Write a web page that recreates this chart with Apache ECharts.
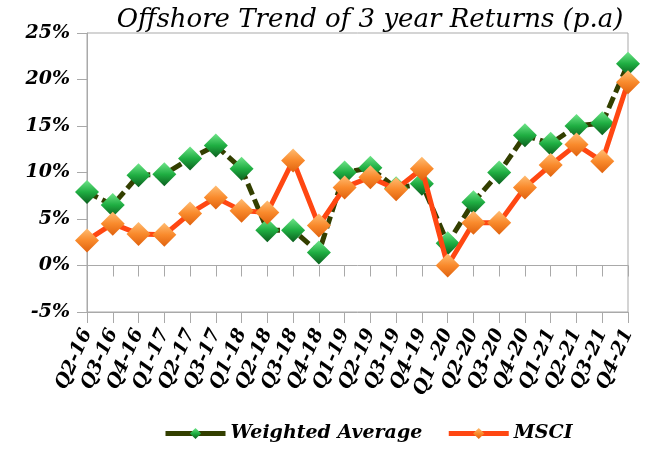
<!DOCTYPE html>
<html>
<head>
<meta charset="utf-8">
<script src="https://cdn.jsdelivr.net/npm/echarts@6/dist/echarts.min.js"></script>
<style>
    html, body { margin: 0; padding: 0; background: #fff; }
    #chart { width: 650px; height: 458px; }
</style>
</head>
<body>
<div id="chart"></div>
<script>
const quarters = [
    "Q2-16", "Q3-16", "Q4-16", "Q1-17", "Q2-17", "Q3-17", "Q1-18", "Q2-18",
    "Q3-18", "Q4-18", "Q1-19", "Q2-19", "Q3-19", "Q4-19", "Q1 -20", "Q2-20",
    "Q3-20", "Q4-20", "Q1-21", "Q2-21", "Q3-21", "Q4-21",
]
const weightedAverage = [
    7.9, 6.5, 9.7, 9.8, 11.5, 12.9, 10.4, 3.8, 3.8, 1.4, 10.0,
    10.5, 8.3, 8.8, 2.4, 6.8, 10.0, 14.0, 13.1, 15.0, 15.3, 21.7,
]
const msci = [
    2.7, 4.5, 3.4, 3.3, 5.6, 7.3, 5.9, 5.7, 11.3, 4.3, 8.4,
    9.5, 8.2, 10.4, 0.0, 4.6, 4.6, 8.4, 10.8, 13.0, 11.2, 19.7,
]

const serif = "DejaVu Serif"
const greenLine = "#333f00"
const orangeLine = "#ff4712"
const frame = "#a9a9a9"

const gem = (top, mid, bottom) =>
    new echarts.graphic.LinearGradient(0, 0, 0, 1, [
        { offset: 0, color: top },
        { offset: 0.5, color: mid },
        { offset: 1, color: bottom },
    ])

const greenGem = gem("#6fe589", "#1fae42", "#0b5e1e")
const orangeGem = gem("#ffbd73", "#f98a2c", "#e0620e")

const chart = echarts.init(document.getElementById("chart"))

const axisText = {
    fontFamily: serif,
    fontStyle: "italic",
    fontWeight: "bold",
    color: "#000",
}

const config = {
    animation: false,
    textStyle: { fontFamily: serif },
    title: {
        text: "Offshore Trend of 3 year Returns (p.a)",
        left: 365,
        top: 2,
        textAlign: "center",
        textStyle: {
            fontFamily: serif,
            fontStyle: "italic",
            fontWeight: "normal",
            fontSize: 26,
            color: "#000",
        },
    },
    legend: {
        bottom: 10,
        left: 158,
        itemWidth: 60,
        itemHeight: 14,
        itemGap: 24,
        textStyle: { ...axisText, fontSize: 19 },
        data: [
            {
                name: "Weighted Average",
                lineStyle: { type: "solid", color: greenLine, width: 5 },
                itemStyle: { color: greenGem },
            },
            {
                name: "MSCI",
                lineStyle: { type: "solid", color: orangeLine, width: 5 },
                itemStyle: { color: orangeGem },
            },
        ],
    },
    grid: {
        left: 87,
        right: 22,
        top: 33,
        bottom: 146,
        show: true,
        borderColor: frame,
        borderWidth: 1,
        containLabel: false,
    },
    xAxis: [
        {
            type: "category",
            data: quarters,
            boundaryGap: false,
            position: "bottom",
            axisLine: { show: true, onZero: false, lineStyle: { color: frame } },
            axisTick: { show: true, interval: 0, length: 11, lineStyle: { color: frame } },
            axisLabel: {
                ...axisText,
                interval: 0,
                rotate: 66,
                margin: 18,
                fontSize: 19,
            },
        },
        {
            type: "category",
            data: quarters,
            boundaryGap: false,
            position: "bottom",
            axisLine: { show: true, onZero: true, lineStyle: { color: frame } },
            axisTick: { show: true, interval: 0, length: 11, lineStyle: { color: frame } },
            axisLabel: { show: false },
        },
    ],
    yAxis: {
        type: "value",
        min: -5,
        max: 25,
        interval: 5,
        splitLine: { show: false },
        axisLine: { show: true, lineStyle: { color: frame } },
        axisTick: { show: true, length: 10, lineStyle: { color: frame } },
        axisLabel: {
            ...axisText,
            formatter: "{value}%",
            margin: 17,
            fontSize: 19,
        },
    },
    series: [
        {
            name: "Weighted Average",
            type: "line",
            xAxisIndex: 0,
            data: weightedAverage,
            symbol: "diamond",
            symbolSize: 24,
            showSymbol: true,
            showAllSymbol: true,
            lineStyle: { color: greenLine, width: 5, type: [12, 5] },
            itemStyle: { color: greenGem, borderWidth: 0 },
            z: 2,
        },
        {
            name: "MSCI",
            type: "line",
            xAxisIndex: 0,
            data: msci,
            symbol: "diamond",
            symbolSize: 24,
            showSymbol: true,
            showAllSymbol: true,
            lineStyle: { color: orangeLine, width: 5 },
            itemStyle: { color: orangeGem, borderWidth: 0 },
            z: 3,
        },
    ],
}

chart.setOption(config)
</script>
</body>
</html>
